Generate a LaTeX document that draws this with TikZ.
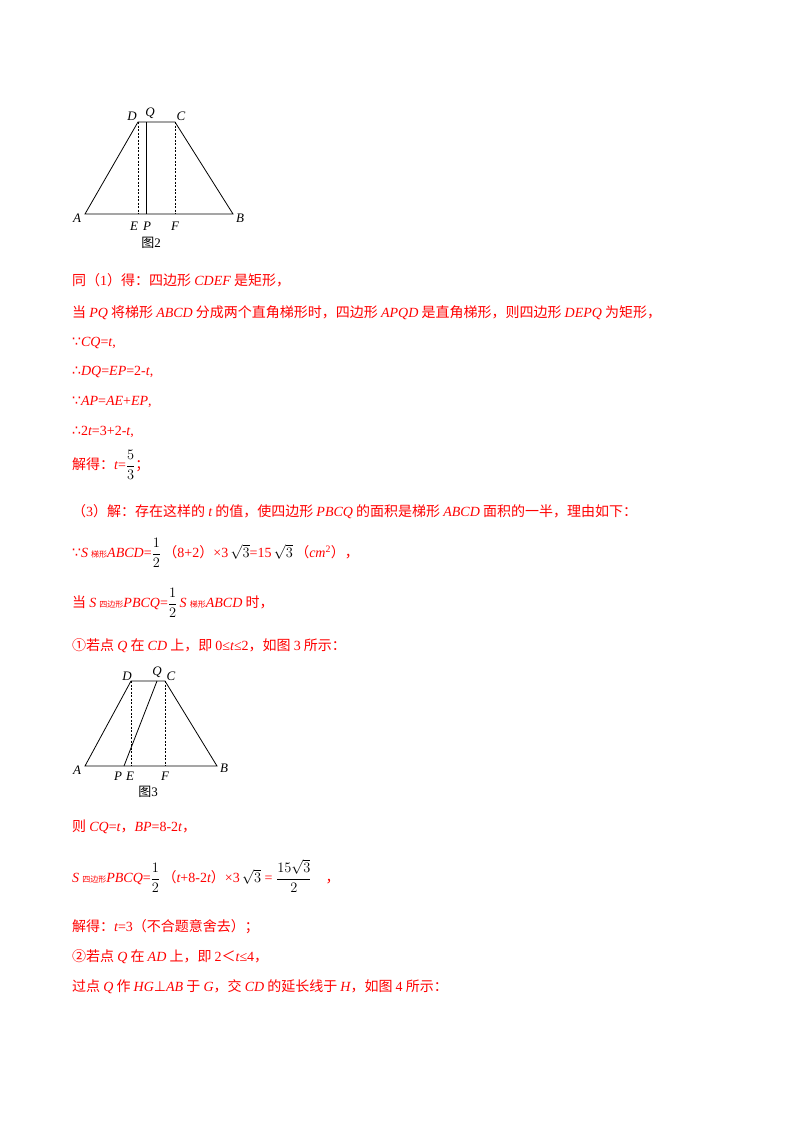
\documentclass[tikz,border=0pt]{standalone}
\usepackage{fontspec}
\setmainfont{Noto Sans CJK SC}
\newfontfamily\lat{Liberation Serif}
\newfontfamily\dv{DejaVu Sans}
\newcommand\I[1]{{\lat\itshape #1}}
\newcommand\R[1]{{\lat #1}}
\newcommand\Sy[1]{{\dv #1}}
\newcommand\sm[1]{{\fontsize{8}{8}\selectfont #1}}
\newcommand\half{\textcolor{black}{$\displaystyle\frac{1}{2}$}}
\newcommand\rt{\textcolor{black}{$\sqrt{3}$}}
\begin{document}
\begin{tikzpicture}[x=1pt,y=-1pt,
  ln/.style={line width=0.8pt},
  dl/.style={line width=0.5pt,dash pattern=on 2pt off 1.5pt},
  lb/.style={font=\lat\itshape\fontsize{13}{13}\selectfont,inner sep=0pt},
  figcap/.style={font=\fontsize{13}{13}\selectfont,inner sep=0pt},
  tx/.style={anchor=west,inner sep=0pt,text=red,font=\fontsize{14}{16}\selectfont}]
\useasboundingbox (0,0) rectangle (800,1132);
% Figure 2
\coordinate (A) at (85,214); \coordinate (B) at (233,214);
\coordinate (D) at (138,122); \coordinate (C) at (175,122);
\coordinate (Q) at (146,122); \coordinate (P) at (146,214);
\coordinate (E) at (138,214); \coordinate (F) at (175,214);
\draw[ln] (A)--(B)--(C)--(D)--cycle;
\draw[ln] (Q)--(P);
\draw[dl] (D)--(E); \draw[dl] (C)--(F);
\node[lb] (lD) at (132,116) {D}; \node[lb] (lQ) at (150,113) {Q};
\node[lb] (lC) at (181,116) {C}; \node[lb] (lA) at (77,218) {A};
\node[lb] (lE) at (134,226) {E}; \node[lb] (lP) at (147,226) {P};
\node[lb] (lF) at (175,226) {F}; \node[lb] (lB) at (240,218) {B};
\node[figcap] (c2) at (151,243) {图\R{2}};
% Figure 3
\coordinate (A3) at (85,766); \coordinate (B3) at (217,766);
\coordinate (D3) at (131,681); \coordinate (C3) at (165,681);
\coordinate (Q3) at (157,681); \coordinate (P3) at (124,766);
\coordinate (E3) at (131,766); \coordinate (F3) at (165,766);
\draw[ln] (A3)--(B3)--(C3)--(D3)--cycle;
\draw[ln] (Q3)--(P3);
\draw[dl] (D3)--(E3); \draw[dl] (C3)--(F3);
\node[lb] (mD) at (127,676) {D}; \node[lb] (mQ) at (157,672) {Q};
\node[lb] (mC) at (171,676) {C}; \node[lb] (mA) at (77,770) {A};
\node[lb] (mP) at (118,776) {P}; \node[lb] (mE) at (130,776) {E};
\node[lb] (mF) at (165,776) {F}; \node[lb] (mB) at (224,768) {B};
\node[figcap] (c3) at (148,792) {图\R{3}};
% Text
\node[tx] (t1) at (72,280) {同（\R{1}）得：四边形 \I{CDEF} 是矩形，};
\node[tx] (t2) at (72,313) {当 \I{PQ} 将梯形 \I{ABCD} 分成两个直角梯形时，四边形 \I{APQD} 是直角梯形，则四边形 \I{DEPQ} 为矩形，};
\node[tx] (t3) at (72,343) {\Sy{∵}\I{CQ}\R{=}\I{t}\R{,}};
\node[tx] (t4) at (72,372) {\Sy{∴}\I{DQ}\R{=}\I{EP}\R{=2-}\I{t}\R{,}};
\node[tx] (t5) at (72,402) {\Sy{∵}\I{AP}\R{=}\I{AE}\R{+}\I{EP}\R{,}};
\node[tx] (t6) at (72,432) {\Sy{∴}\R{2}\I{t}\R{=3+2-}\I{t}\R{,}};
\node[tx] (t7) at (72,465) {解得：\I{t}\R{=}\textcolor{black}{$\displaystyle\frac{5}{3}$}；};
\node[tx] (t8) at (72,512) {（\R{3}）解：存在这样的 \I{t} 的值，使四边形 \I{PBCQ} 的面积是梯形 \I{ABCD} 面积的一半，理由如下：};
\node[tx] (t9) at (72,553) {\Sy{∵}\I{S} \sm{梯形}\I{ABCD}\R{=}\half\,（\R{8+2}）\R{×3}\,\rt\R{=15}\,\rt\,（\I{cm}\R{\textsuperscript{2}}），};
\node[tx] (t10) at (72,603) {当 \I{S} \sm{四边形}\I{PBCQ}\R{=}\half\,\I{S} \sm{梯形}\I{ABCD} 时，};
\node[tx] (t11) at (72,646) {①若点 \I{Q} 在 \I{CD} 上，即 \R{0≤}\I{t}\R{≤2}，如图 \R{3} 所示：};
\node[tx] (t12) at (72,827) {则 \I{CQ}\R{=}\I{t}，\I{BP}\R{=8-2}\I{t}，};
\node[tx] (t13) at (72,876) {\I{S} \sm{四边形}\I{PBCQ}\R{=}\half\,（\I{t}\R{+8-2}\I{t}）\R{×3}\,\rt\R{ = }\textcolor{black}{$\displaystyle\frac{15\sqrt{3}}{2}$}\quad，};
\node[tx] (t14) at (72,927) {解得：\I{t}\R{=3}（不合题意舍去）；};
\node[tx] (t15) at (72,957) {②若点 \I{Q} 在 \I{AD} 上，即 \R{2}＜\I{t}\R{≤4}，};
\node[tx] (t16) at (72,987) {过点 \I{Q} 作 \I{HG}\Sy{⊥}\I{AB} 于 \I{G}，交 \I{CD} 的延长线于 \I{H}，如图 \R{4} 所示：};
\end{tikzpicture}
\end{document}
